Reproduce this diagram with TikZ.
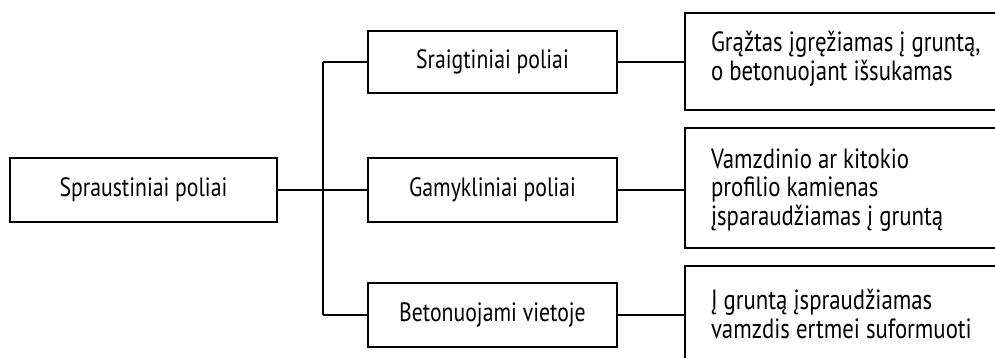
\documentclass[tikz,border=0pt]{standalone}
\usepackage{fontspec}
\setmainfont{PT Sans}[FakeStretch=0.82]
\begin{document}
\begin{tikzpicture}[x=1pt,y=-1pt,
  box/.style={draw=black, line width=2.4pt, rectangle, inner sep=0pt, font=\fontsize{26.5}{28.5}\selectfont},
  descbox/.style={draw=black, line width=2.4pt, rectangle, inner sep=0pt, minimum width=325pt},
  desctext/.style={anchor=west, align=left, inner sep=0pt, xshift=27pt, font=\fontsize{27.8}{28.5}\selectfont},
  wire/.style={draw=black, line width=1.6pt}]
\useasboundingbox (0,0) rectangle (995,358);
\clip (0,0) rectangle (995,358);

% root
\node[box, minimum width=267pt, minimum height=64pt] (root) at (143.5,190) {Spraustiniai poliai};

% pile types
\node[box, minimum width=249pt, minimum height=62pt] (screw) at (492.5,62) {Sraigtiniai poliai};
\node[box, minimum width=249pt, minimum height=64pt] (factory) at (492.5,190) {Gamykliniai poliai};
\node[box, minimum width=249pt, minimum height=64pt] (cast) at (492.5,315) {Betonuojami vietoje};

% description frames
\node[descbox, minimum height=97pt] (d1) at (847.5,61.5) {};
\node[descbox, minimum height=120pt] (d2) at (847.5,188) {};
\node[descbox, minimum height=96pt] (d3) at (847.5,314) {};

% description texts
\node[desctext, yshift=2.5pt] (t1) at (d1.west)
  {Grąžtas įgręžiamas į gruntą,\\o betonuojant išsukamas};
\node[desctext, yshift=-2pt] (t2) at (d2.west)
  {Vamzdinio ar kitokio\\profilio kamienas\\įsparaudžiamas į gruntą};
\node[desctext] (t3) at (d3.west)
  {Į gruntą įspraudžiamas\\vamzdis ertmei suformuoti};

% trunk
\coordinate (ttop) at (323,62);
\coordinate (tbot) at (323,315);
\coordinate (tmid) at (323,190);
\draw[wire] (ttop) -- (tbot);
\draw[wire] (root.east) -- (tmid);
\draw[wire] (ttop) -- (screw.west);
\draw[wire] (tmid) -- (factory.west);
\draw[wire] (tbot) -- (cast.west);

% to descriptions
\draw[wire] (screw.east) -- (screw.east -| d1.west);
\draw[wire] (factory.east) -- (factory.east -| d2.west);
\draw[wire] (cast.east) -- (cast.east -| d3.west);
\end{tikzpicture}
\end{document}
